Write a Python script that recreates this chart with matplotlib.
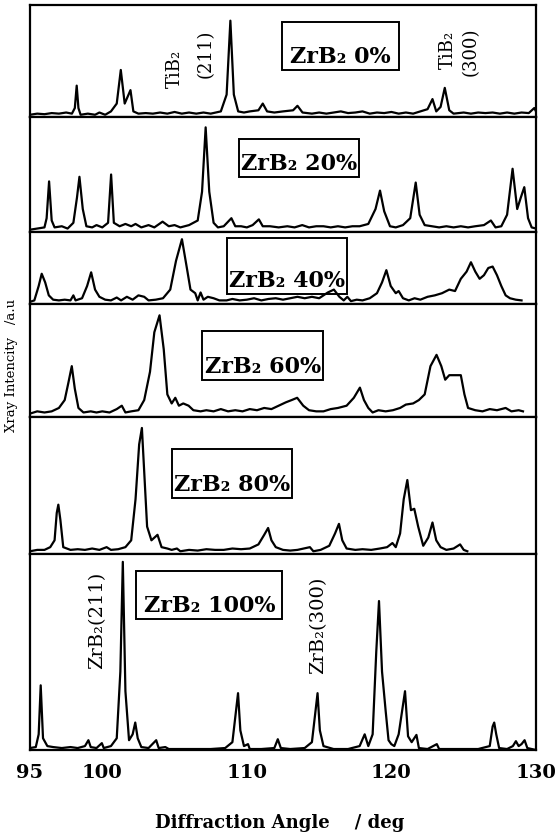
import matplotlib
matplotlib.use("Agg")
import matplotlib.pyplot as plt
from matplotlib.patches import Rectangle

plt.rcParams['font.family'] = ['DejaVu Serif', 'DejaVu Sans']

# ---------------- data (angle in deg, intensity in a.u., panel-relative) -------------
labels = ["ZrB\u2082 0%", "ZrB\u2082 20%", "ZrB\u2082 40%", "ZrB\u2082 60%", "ZrB\u2082 80%", "ZrB\u2082 100%"]

ang_0 = [95.0, 95.5, 96.0, 96.5, 97.0, 97.5, 97.9, 98.1, 98.23, 98.35, 98.5, 99.0, 99.5, 99.8, 100.2, 100.6,
         101.0, 101.28, 101.55, 101.95, 102.15, 102.5, 103.0, 103.5, 104.0, 104.5, 105.0, 105.5, 106.0, 106.5,
         107.0, 107.5, 108.2, 108.6, 108.86, 109.1, 109.4, 109.8, 110.2, 110.8, 111.1, 111.4, 111.9, 112.5,
         113.2, 113.5, 113.85, 114.5, 115.0, 115.5, 116.0, 116.5, 117.0, 117.5, 118.0, 118.5, 119.0, 119.5,
         120.0, 120.5, 121.0, 121.5, 122.0, 122.5, 122.84, 123.1, 123.4, 123.69, 124.0, 124.3, 125.0, 125.5,
         126.0, 126.5, 127.0, 127.5, 128.0, 128.5, 129.0, 129.5, 129.88, 130.0]
int_0 = [0.02, 0.03, 0.025, 0.035, 0.03, 0.04, 0.03, 0.08, 0.28, 0.08, 0.02, 0.03, 0.02, 0.04, 0.02, 0.05,
         0.12, 0.42, 0.12, 0.24, 0.05, 0.03, 0.035, 0.03, 0.04, 0.03, 0.045, 0.03, 0.04, 0.03,
         0.04, 0.03, 0.05, 0.2, 0.86, 0.2, 0.05, 0.04, 0.05, 0.06, 0.12, 0.05, 0.04, 0.05,
         0.06, 0.10, 0.04, 0.03, 0.04, 0.03, 0.04, 0.05, 0.035, 0.04, 0.05, 0.03, 0.04, 0.035,
         0.045, 0.03, 0.04, 0.03, 0.05, 0.07, 0.16, 0.05, 0.09, 0.26, 0.06, 0.03, 0.04, 0.03,
         0.04, 0.035, 0.04, 0.03, 0.04, 0.03, 0.04, 0.035, 0.08, 0.05]

ang_20 = [95.0, 95.5, 96.0, 96.15, 96.32, 96.5, 96.7, 97.2, 97.6, 98.0, 98.25, 98.42, 98.65, 98.9, 99.3, 99.6,
          100.0, 100.4, 100.61, 100.8, 101.2, 101.6, 102.0, 102.3, 102.7, 103.2, 103.6, 104.17, 104.6, 105.0,
          105.4, 106.0, 106.6, 106.9, 107.15, 107.4, 107.7, 108.0, 108.4, 108.93, 109.2, 109.6, 110.0, 110.4,
          110.83, 111.1, 111.6, 112.2, 112.8, 113.3, 113.83, 114.3, 114.8, 115.3, 115.8, 116.3, 116.8, 117.3,
          117.8, 118.4, 118.9, 119.21, 119.5, 119.9, 120.3, 120.8, 121.3, 121.68, 121.95, 122.3, 122.8, 123.3,
          123.8, 124.3, 124.8, 125.3, 125.8, 126.4, 126.88, 127.2, 127.6, 128.0, 128.38, 128.7, 128.95, 129.19,
          129.45, 129.7, 130.0]
int_20 = [0.02, 0.03, 0.04, 0.12, 0.44, 0.1, 0.04, 0.05, 0.03, 0.08, 0.3, 0.48, 0.2, 0.05, 0.04, 0.06,
          0.04, 0.08, 0.5, 0.08, 0.05, 0.07, 0.05, 0.07, 0.04, 0.06, 0.04, 0.09, 0.05, 0.06,
          0.04, 0.06, 0.1, 0.35, 0.91, 0.35, 0.08, 0.04, 0.05, 0.12, 0.05, 0.05, 0.04, 0.06,
          0.11, 0.05, 0.05, 0.04, 0.05, 0.04, 0.06, 0.04, 0.05, 0.05, 0.04, 0.05, 0.04, 0.05,
          0.05, 0.07, 0.2, 0.36, 0.18, 0.05, 0.04, 0.06, 0.12, 0.43, 0.15, 0.06, 0.05, 0.04,
          0.05, 0.04, 0.05, 0.04, 0.05, 0.06, 0.10, 0.04, 0.05, 0.15, 0.55, 0.2, 0.3, 0.39,
          0.12, 0.04, 0.03]

ang_40 = [95.0, 95.3, 95.6, 95.81, 96.05, 96.3, 96.6, 97.0, 97.4, 97.8, 98.0, 98.15, 98.6, 98.95, 99.23, 99.5,
          99.8, 100.2, 100.6, 101.0, 101.3, 101.7, 102.1, 102.5, 102.9, 103.2, 103.7, 104.2, 104.7, 105.1,
          105.51, 105.85, 106.1, 106.43, 106.6, 106.8, 107.0, 107.3, 107.7, 108.1, 108.6, 109.0, 109.5, 110.0,
          110.5, 111.0, 111.5, 112.0, 112.5, 113.0, 113.5, 114.0, 114.5, 115.0, 115.6, 116.02, 116.4, 116.7,
          116.95, 117.2, 117.6, 118.0, 118.5, 119.0, 119.35, 119.65, 119.95, 120.3, 120.5, 120.8, 121.2, 121.6,
          122.0, 122.5, 123.0, 123.5, 124.0, 124.4, 124.8, 125.2, 125.5, 125.8, 126.1, 126.4, 126.7, 127.0,
          127.3, 127.6, 127.9, 128.2, 128.6, 129.0]
int_40 = [0.03, 0.05, 0.25, 0.42, 0.3, 0.12, 0.06, 0.05, 0.06, 0.05, 0.12, 0.05, 0.08, 0.25, 0.44, 0.2,
          0.1, 0.06, 0.05, 0.09, 0.05, 0.1, 0.06, 0.12, 0.1, 0.05, 0.06, 0.08, 0.2, 0.6,
          0.9, 0.5, 0.2, 0.15, 0.05, 0.16, 0.06, 0.1, 0.08, 0.05, 0.05, 0.07, 0.05, 0.06,
          0.08, 0.05, 0.07, 0.08, 0.06, 0.08, 0.1, 0.08, 0.1, 0.08, 0.16, 0.2, 0.1, 0.05,
          0.1, 0.04, 0.06, 0.05, 0.08, 0.15, 0.3, 0.47, 0.25, 0.15, 0.18, 0.08, 0.05, 0.08,
          0.06, 0.1, 0.12, 0.15, 0.2, 0.18, 0.35, 0.45, 0.58, 0.45, 0.35, 0.4, 0.5, 0.52,
          0.4, 0.25, 0.12, 0.08, 0.06, 0.05]

ang_60 = [95.0, 95.5, 96.0, 96.5, 97.0, 97.4, 97.65, 97.89, 98.1, 98.35, 98.7, 99.2, 99.6, 100.0, 100.5, 101.0,
          101.35, 101.6, 102.0, 102.5, 102.9, 103.3, 103.6, 103.96, 104.25, 104.5, 104.8, 105.05, 105.3, 105.6,
          105.97, 106.3, 106.8, 107.2, 107.7, 108.2, 108.7, 109.2, 109.7, 110.2, 110.7, 111.2, 111.7, 112.2,
          112.7, 113.1, 113.48, 113.9, 114.3, 114.8, 115.3, 115.8, 116.3, 116.9, 117.4, 117.82, 118.1, 118.4,
          118.7, 119.1, 119.6, 120.1, 120.6, 121.0, 121.5, 121.9, 122.3, 122.7, 123.12, 123.45, 123.72, 124.0,
          124.4, 124.8, 125.05, 125.3, 125.8, 126.3, 126.8, 127.3, 127.9, 128.3, 128.8, 129.1]
int_60 = [0.03, 0.05, 0.04, 0.05, 0.08, 0.15, 0.3, 0.45, 0.25, 0.08, 0.04, 0.05, 0.04, 0.05, 0.04, 0.07,
          0.1, 0.04, 0.05, 0.06, 0.15, 0.4, 0.75, 0.9, 0.6, 0.2, 0.12, 0.17, 0.1, 0.12,
          0.1, 0.06, 0.05, 0.06, 0.05, 0.07, 0.05, 0.06, 0.05, 0.07, 0.06, 0.08, 0.07, 0.1,
          0.13, 0.15, 0.17, 0.1, 0.06, 0.05, 0.05, 0.07, 0.08, 0.1, 0.17, 0.26, 0.15, 0.08,
          0.04, 0.06, 0.05, 0.06, 0.08, 0.11, 0.12, 0.15, 0.2, 0.45, 0.55, 0.45, 0.33, 0.37,
          0.37, 0.37, 0.2, 0.08, 0.06, 0.05, 0.07, 0.06, 0.08, 0.05, 0.06, 0.05]

ang_80 = [95.0, 95.5, 96.0, 96.4, 96.7, 96.85, 96.96, 97.1, 97.3, 97.8, 98.3, 98.8, 99.3, 99.8, 100.3, 100.6,
          101.1, 101.6, 102.0, 102.3, 102.55, 102.74, 102.9, 103.1, 103.4, 103.82, 104.1, 104.5, 104.8, 105.16,
          105.4, 106.0, 106.6, 107.2, 107.8, 108.4, 109.0, 109.6, 110.2, 110.8, 111.2, 111.47, 111.7, 112.0,
          112.5, 113.0, 113.5, 114.36, 114.6, 115.1, 115.7, 116.1, 116.37, 116.6, 116.9, 117.5, 118.0, 118.6,
          119.2, 119.7, 120.07, 120.3, 120.6, 120.85, 121.1, 121.35, 121.58, 121.85, 122.2, 122.55, 122.84, 123.1,
          123.4, 123.8, 124.3, 124.75, 125.0, 125.25]
int_80 = [0.02, 0.03, 0.03, 0.05, 0.1, 0.3, 0.36, 0.25, 0.05, 0.03, 0.035, 0.03, 0.04, 0.03, 0.05, 0.03,
          0.035, 0.05, 0.1, 0.4, 0.8, 0.92, 0.6, 0.2, 0.1, 0.14, 0.05, 0.04, 0.03, 0.04,
          0.02, 0.03, 0.025, 0.035, 0.03, 0.03, 0.04, 0.035, 0.04, 0.07, 0.14, 0.19, 0.1, 0.05,
          0.03, 0.025, 0.03, 0.05, 0.02, 0.03, 0.06, 0.15, 0.22, 0.1, 0.04, 0.03, 0.035, 0.03,
          0.04, 0.05, 0.08, 0.05, 0.15, 0.4, 0.54, 0.32, 0.33, 0.2, 0.06, 0.12, 0.23, 0.1,
          0.05, 0.03, 0.04, 0.07, 0.03, 0.02]

ang_100 = [95.0, 95.4, 95.6, 95.74, 95.9, 96.2, 96.6, 97.2, 97.8, 98.3, 98.8, 99.04, 99.2, 99.6, 99.97, 100.1,
           100.6, 101.0, 101.25, 101.42, 101.6, 101.85, 102.1, 102.28, 102.45, 102.7, 103.2, 103.73, 103.9, 104.36,
           104.6, 105.5, 106.5, 107.5, 108.5, 109.0, 109.25, 109.39, 109.55, 109.8, 110.08, 110.2, 111.0, 111.9,
           112.14, 112.35, 113.0, 114.0, 114.5, 114.75, 114.89, 115.05, 115.3, 116.0, 117.0, 117.8, 118.15, 118.4,
           118.7, 118.95, 119.14, 119.35, 119.6, 119.8, 119.99, 120.2, 120.5, 120.94, 121.15, 121.4, 121.73, 121.9,
           122.5, 123.14, 123.3, 124.0, 125.0, 126.0, 126.8, 127.0, 127.11, 127.25, 127.45, 128.0, 128.4, 128.61,
           128.8, 129.0, 129.21, 129.4, 130.0]
int_100 = [0.01, 0.015, 0.08, 0.33, 0.06, 0.02, 0.015, 0.01, 0.015, 0.01, 0.02, 0.05, 0.015, 0.01, 0.035, 0.01,
           0.02, 0.06, 0.4, 0.96, 0.3, 0.05, 0.08, 0.14, 0.06, 0.015, 0.01, 0.05, 0.01, 0.015,
           0.005, 0.005, 0.005, 0.005, 0.01, 0.04, 0.2, 0.29, 0.1, 0.02, 0.03, 0.005, 0.005, 0.01,
           0.055, 0.01, 0.005, 0.01, 0.04, 0.2, 0.29, 0.1, 0.02, 0.005, 0.005, 0.02, 0.08, 0.02,
           0.08, 0.5, 0.76, 0.4, 0.2, 0.05, 0.03, 0.02, 0.08, 0.3, 0.07, 0.04, 0.077, 0.01,
           0.005, 0.03, 0.005, 0.005, 0.005, 0.005, 0.02, 0.12, 0.14, 0.08, 0.01, 0.005, 0.02, 0.045,
           0.02, 0.03, 0.05, 0.01, 0.0]

angles = [ang_0, ang_20, ang_40, ang_60, ang_80, ang_100]
intens = [int_0, int_20, int_40, int_60, int_80, int_100]

x_ticks = [95, 100, 110, 120, 130]

# ---------------- layout ----------------
W, H = 557, 836
left_px, right_px = 30, 536
bounds_px = [5, 117, 232, 304, 417, 554, 750]   # panel edges (top -> bottom)
# label box per panel: (x0 deg, x1 deg, y0 frac, y1 frac)
boxes = [(112.4, 120.5, 0.418, 0.851),
         (109.45, 117.75, 0.478, 0.81),
         (108.6, 116.95, 0.133, 0.91),
         (106.9, 115.3, 0.324, 0.758),
         (104.8, 113.15, 0.407, 0.765),
         (102.35, 112.45, 0.667, 0.915)]

fig = plt.figure(figsize=(W / 100, H / 100), dpi=100)
axes = []
for i in range(6):
    top, bot = bounds_px[i], bounds_px[i + 1]
    ax = fig.add_axes([left_px / W, 1 - bot / H, (right_px - left_px) / W, (bot - top) / H])
    ax.plot(angles[i], intens[i], color='black', lw=1.6)
    ax.set_xlim(95, 130)
    ax.set_ylim(0, 1)
    ax.set_yticks([])
    for s in ax.spines.values():
        s.set_linewidth(1.6)
        s.set_color('black')
    ph = bot - top
    x0, x1, y0, y1 = boxes[i]
    tr = ax.get_xaxis_transform()
    ax.add_patch(Rectangle((x0, y0), x1 - x0, y1 - y0, transform=tr, fill=False,
                           edgecolor='black', lw=1.4, zorder=3))
    ax.text((x0 + x1) / 2, y0 + 7 / ph, labels[i], transform=tr, ha='center', va='baseline',
            fontsize=16, fontweight='bold', zorder=4)
    if i < 5:
        ax.set_xticks([])
    else:
        ax.set_xticks(x_ticks)
        ax.set_xticklabels([str(t) for t in x_ticks], fontsize=14, fontweight='bold')
        ax.tick_params(axis='x', length=0, pad=10)
    axes.append(ax)

# peak annotations
a0 = axes[0]
t0 = a0.get_xaxis_transform()
a0.text(105.05, 0.43, "TiB\u2082", transform=t0, rotation=90, ha='center', va='center', fontsize=13)
a0.text(107.13, 0.56, "(211)", transform=t0, rotation=90, ha='center', va='center', fontsize=13)
a0.text(123.88, 0.60, "TiB\u2082", transform=t0, rotation=90, ha='center', va='center', fontsize=13)
a0.text(125.5, 0.58, "(300)", transform=t0, rotation=90, ha='center', va='center', fontsize=13)

a5 = axes[5]
t5 = a5.get_xaxis_transform()
a5.text(99.67, 0.66, "ZrB\u2082(211)", transform=t5, rotation=90, ha='center', va='center', fontsize=14)
a5.text(114.9, 0.635, "ZrB\u2082(300)", transform=t5, rotation=90, ha='center', va='center', fontsize=14)

fig.text(280 / W, 1 - 823 / H, "Diffraction Angle    / deg", ha='center', va='center',
         fontsize=13, fontweight='bold')
fig.text(12 / W, 1 - 365 / H, "Xray Intencity   /a.u", ha='center', va='center',
         rotation=90, fontsize=9.5)

fig.savefig("out.png", dpi=100)
